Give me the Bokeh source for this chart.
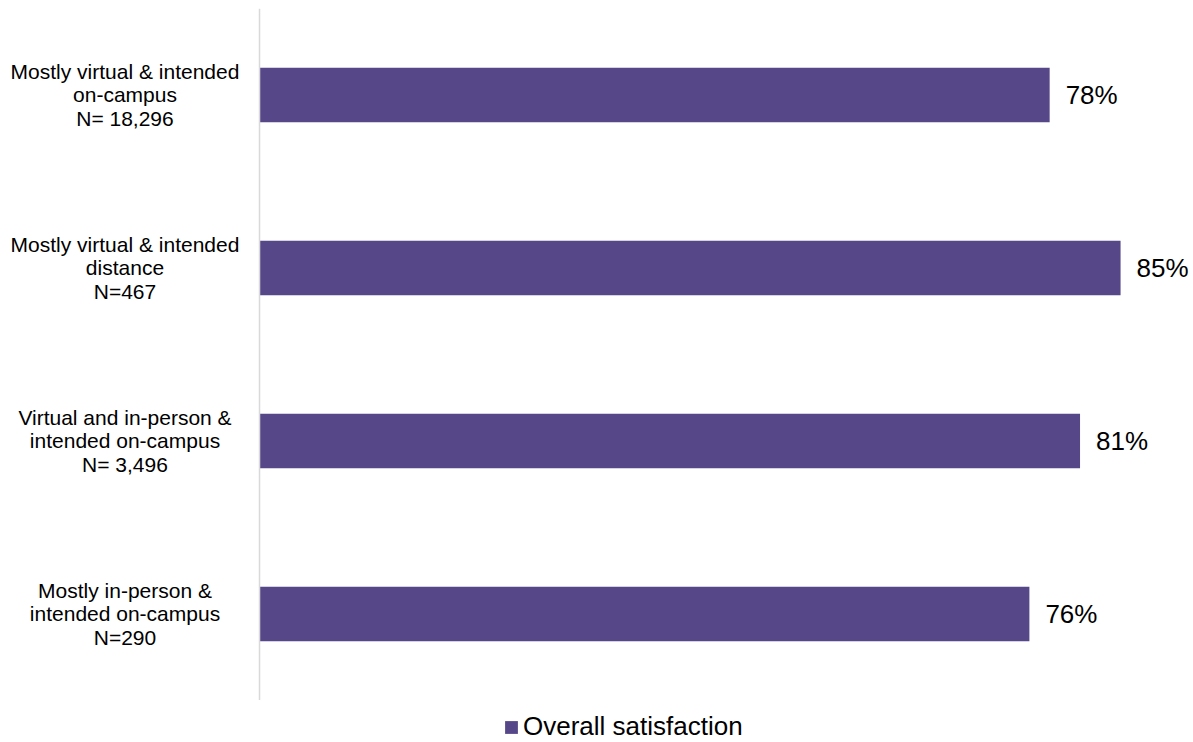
from bokeh.plotting import figure
from bokeh.layouts import column
from bokeh.models import ColumnDataSource, FactorRange, Span, Legend, LegendItem
from bokeh.core.properties import value
from bokeh.embed import file_html
from bokeh.resources import INLINE

categories = [
    "Mostly virtual & intended\non-campus\nN= 18,296",
    "Mostly virtual & intended\ndistance\nN=467",
    "Virtual and in-person &\nintended on-campus\nN= 3,496",
    "Mostly in-person &\nintended on-campus\nN=290",
]
satisfaction = [0.78, 0.85, 0.81, 0.76]
value_labels = ["78%", "85%", "81%", "76%"]
series_name = "Overall satisfaction"

FONT = "Liberation Sans"
BAR = "#564789"

y_factors = list(reversed(categories))

src = ColumnDataSource(dict(
    cat=categories,
    val=satisfaction,
    lab=value_labels,
    lx=[-0.1328] * len(categories),
))

p = figure(
    width=1193, height=700,
    y_range=FactorRange(factors=y_factors, range_padding=0),
    x_range=(-0.2557, 0.922),
    output_backend="svg", toolbar_location=None,
    min_border_left=0, min_border_right=0,
    min_border_top=8, min_border_bottom=0,
)
p.outline_line_color = None
p.xaxis.visible = False
p.yaxis.visible = False
p.xgrid.visible = False
p.ygrid.visible = False
p.background_fill_color = "white"
p.border_fill_color = "white"

r = p.hbar(y="cat", right="val", left=0, height=0.316, source=src,
           fill_color=BAR, line_color=None)

# value labels
p.text(x="val", y="cat", text="lab", source=src, x_offset=16,
       text_font=value(FONT), text_font_size="26px", text_color="#000000",
       text_align="left", text_baseline="middle")

# category labels
p.text(x="lx", y="cat", text="cat", source=src,
       text_font=value(FONT), text_font_size="21px", text_color="#000000",
       text_align="center", text_baseline="middle", text_line_height=1.02)

# axis line
p.add_layout(Span(location=0, dimension="height", line_color="#d9d9d9", line_width=1.5))

# legend strip
lp = figure(width=1193, height=42, output_backend="svg", toolbar_location=None,
            x_range=(0, 1), y_range=(0, 1),
            min_border_left=0, min_border_right=0, min_border_top=0, min_border_bottom=0)
lp.outline_line_color = None
lp.xaxis.visible = False
lp.yaxis.visible = False
lp.xgrid.visible = False
lp.ygrid.visible = False
lr = lp.hbar(y=[0.5], right=[0], left=0, height=0.3, fill_color=BAR, line_color=None)

legend = Legend(items=[LegendItem(label=series_name, renderers=[lr])],
                location=(503, 0), orientation="horizontal",
                padding=0, margin=0, spacing=0,
                glyph_width=16, glyph_height=16, label_standoff=4,
                label_text_font=FONT, label_text_font_size="26px",
                label_text_color="#000000", label_height=22,
                border_line_color=None, background_fill_alpha=0)
lp.add_layout(legend)

layout = column(p, lp, spacing=0)
open("out.html", "w").write(file_html(layout, INLINE))
